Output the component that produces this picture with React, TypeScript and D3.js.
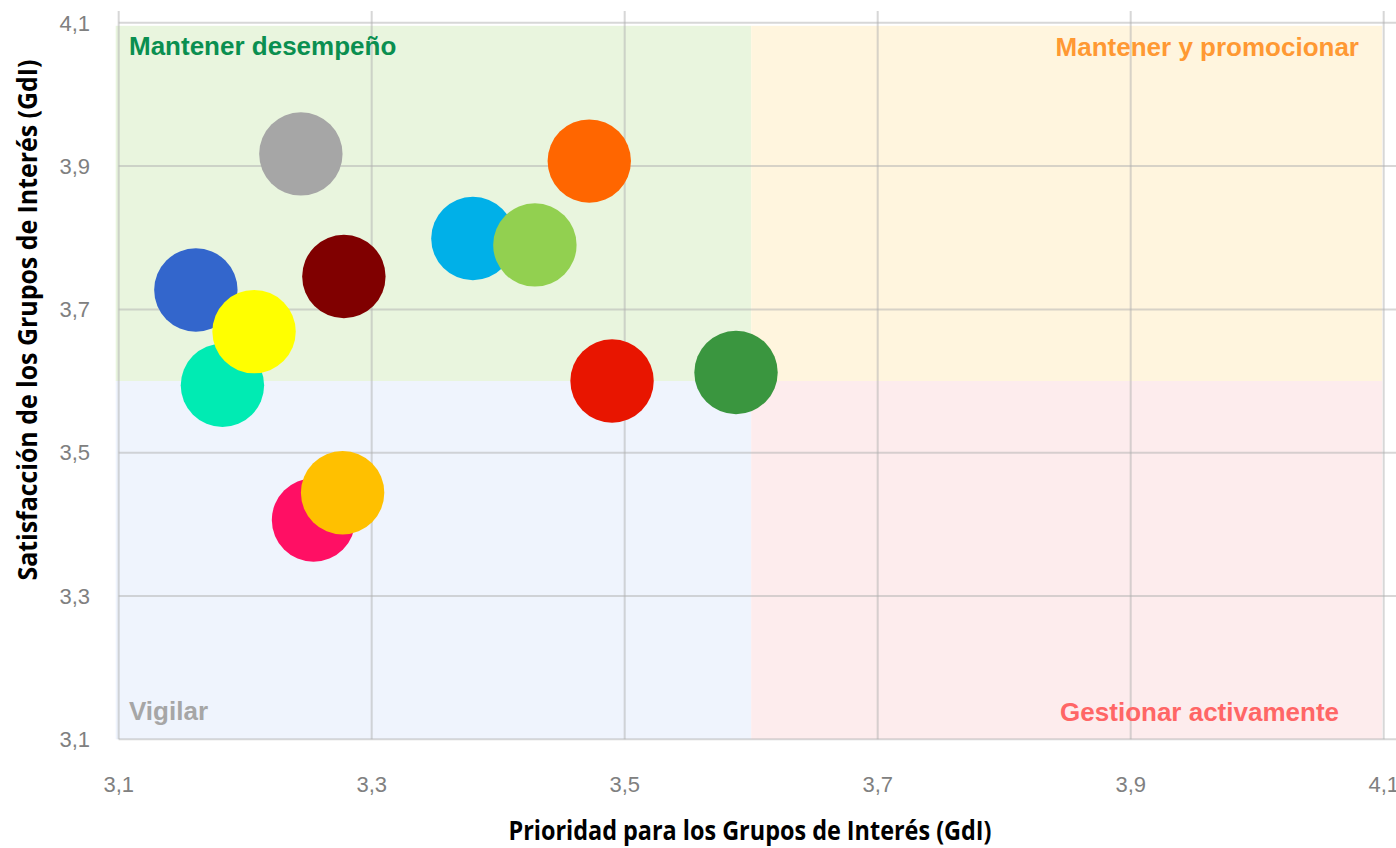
import React from "react";
import * as d3 from "d3";

const names = ["A", "B", "C", "D", "E", "F", "G", "H", "I", "J", "K", "L"];
const priority = [3.244, 3.161, 3.182, 3.207, 3.278, 3.254, 3.277, 3.380, 3.429, 3.472, 3.490, 3.588];
const satisfaction = [3.917, 3.727, 3.594, 3.669, 3.746, 3.406, 3.444, 3.799, 3.790, 3.907, 3.600, 3.612];
const colors = ["#a6a6a6", "#3366cc", "#00ebb3", "#ffff00", "#800000", "#ff0f64", "#ffc000", "#00b0e8", "#92d050", "#ff6600", "#e81500", "#3a963f"];
const ticks = [3.1, 3.3, 3.5, 3.7, 3.9, 4.1];
const quadrants = [
  { x0: 3.1, x1: 3.6, y0: 3.6, y1: 4.1, fill: "#e9f5de" },
  { x0: 3.6, x1: 4.1, y0: 3.6, y1: 4.1, fill: "#fff5de" },
  { x0: 3.1, x1: 3.6, y0: 3.1, y1: 3.6, fill: "#eff4fd" },
  { x0: 3.6, x1: 4.1, y0: 3.1, y1: 3.6, fill: "#fdeced" },
];

export default function App() {
  const W = 1396, H = 848;
  const x = d3.scaleLinear().domain([3.1, 4.1]).range([118.7, 1383.7]);
  const y = d3.scaleLinear().domain([3.1, 4.1]).range([739.3, 22.8]);
  const fmt = (v: number) => d3.format(".1f")(v).replace(".", ",");
  const r = 41.7;
  const top = 11;
  const qx0 = (v: number) => (v === 3.1 ? x(v) - 3 : x(v));
  const qx1 = (v: number) => (v === 4.1 ? x(v) - 1.5 : x(v));
  const qy1 = (v: number) => (v === 4.1 ? y(v) + 3 : y(v));
  return (
    <svg width={W} height={H} style={{ position: "absolute", left: 0, top: 0 }}
      fontFamily="'Liberation Sans', Arial, sans-serif">
      {quadrants.map((q, i) => (
        <rect key={i} x={qx0(q.x0)} y={qy1(q.y1)}
          width={qx1(q.x1) - qx0(q.x0)} height={y(q.y0) - qy1(q.y1)} fill={q.fill} />
      ))}
      {ticks.map((t) => (
        <line key={"v" + t} x1={x(t)} x2={x(t)} y1={top} y2={y(3.1)} stroke="#b0b0b0" strokeOpacity={0.5} strokeWidth={2} />
      ))}
      {ticks.map((t) => (
        <line key={"h" + t} x1={x(3.1)} x2={W} y1={y(t)} y2={y(t)} stroke="#b0b0b0" strokeOpacity={0.5} strokeWidth={2} />
      ))}
      {ticks.map((t) => (
        <text key={"yt" + t} x={90} y={y(t)} dy="0.35em" textAnchor="end" fontSize={22} fill="#808080">{fmt(t)}</text>
      ))}
      {ticks.map((t) => (
        <text key={"xt" + t} x={x(t)} y={784} dy="0.35em" textAnchor="middle" fontSize={22} fill="#808080">{fmt(t)}</text>
      ))}
      <text x={129} y={55} fontSize={26} fontWeight="bold" fill="#0a8f50">Mantener desempeño</text>
      <text x={1359} y={56} fontSize={26} fontWeight="bold" fill="#ff9933" textAnchor="end">Mantener y promocionar</text>
      <text x={129} y={720} fontSize={26} fontWeight="bold" fill="#a6a6a6">Vigilar</text>
      <text x={1339} y={721} fontSize={26} fontWeight="bold" fill="#ff6666" textAnchor="end">Gestionar activamente</text>
      {names.map((n, i) => (
        <circle key={n} cx={x(priority[i])} cy={y(satisfaction[i])} r={r} fill={colors[i]} />
      ))}
      <text x={750} y={840} textAnchor="middle" fontSize={26} fontWeight="bold" fill="#000"
        fontFamily="'Open Sans', sans-serif" textLength={483} lengthAdjust="spacingAndGlyphs">Prioridad para los Grupos de Interés (GdI)</text>
      <text transform={`translate(37,320) rotate(-90)`} textAnchor="middle" fontSize={26} fontWeight="bold" fill="#000"
        fontFamily="'Open Sans', sans-serif" textLength={521} lengthAdjust="spacingAndGlyphs">Satisfacción de los Grupos de Interés (GdI)</text>
    </svg>
  );
}
